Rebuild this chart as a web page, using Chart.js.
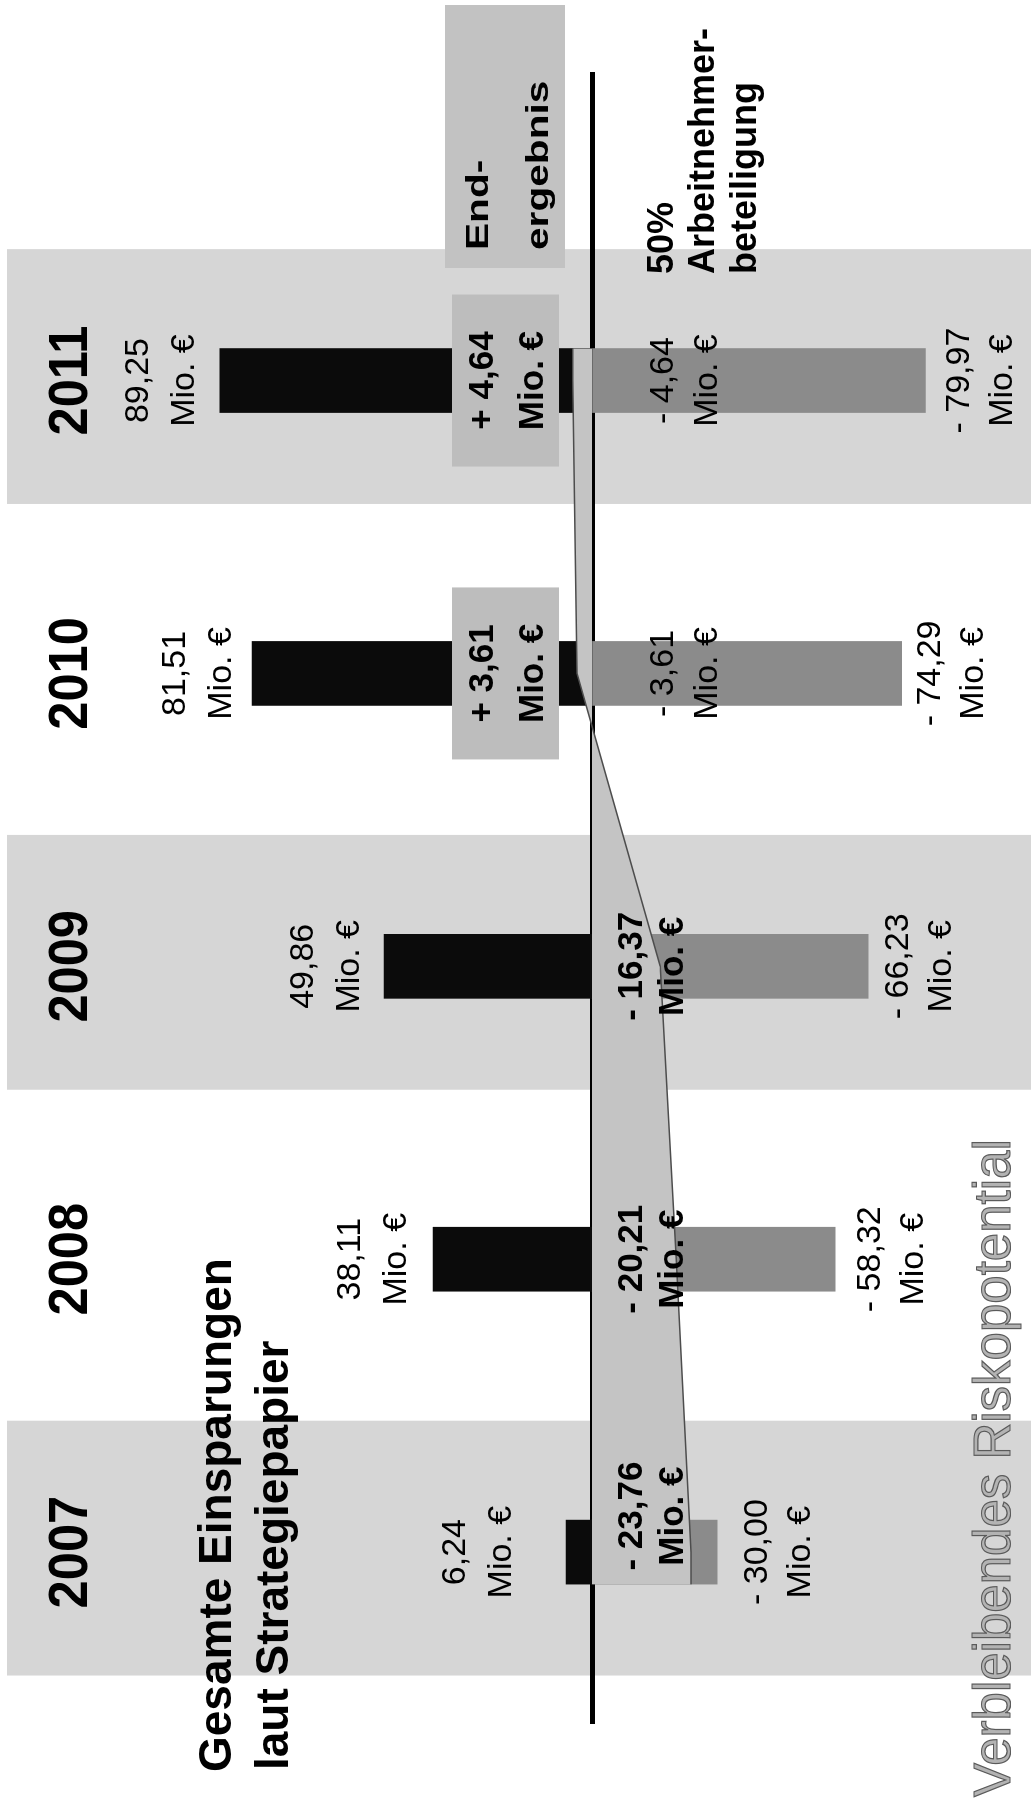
<!DOCTYPE html>
<html lang="de">
<head>
<meta charset="utf-8">
<title>Einsparungen und Risikopotential 2007-2011</title>
<script src="https://cdn.jsdelivr.net/npm/chart.js@4/dist/chart.umd.min.js"></script>
<style>
  html, body { margin: 0; padding: 0; overflow: hidden; background: #fff; }
  #page { position: relative; width: 1031px; height: 1800px; overflow: hidden; }
  /* the slide is landscape, the page shows it turned on its side */
  #chart { position: absolute; left: 0; top: 0; transform-origin: 0 0; transform: translateY(1800px) rotate(-90deg); }
</style>
</head>
<body>
<div id="page"><canvas id="chart" width="1800" height="1031"></canvas></div>
<script>
const years = ['2007', '2008', '2009', '2010', '2011']
const savings = [6.24, 38.11, 49.86, 81.51, 89.25]          // Gesamte Einsparungen
const risk = [-30.00, -58.32, -66.23, -74.29, -79.97]       // Verbleibendes Riskopotential
const result = [-23.76, -20.21, -16.37, 3.61, 4.64]         // Endergebnis
const employeeShare = [null, null, null, -3.61, -4.64]      // 50% Arbeitnehmerbeteiligung
const shadedYears = ['2007', '2009', '2011']

const FONT = '"Liberation Sans", Arial, sans-serif'
const BAR = 64
const halfBar = 0.11   // half a bar, in x units (bars sit one unit apart)

// hand nudges for the value labels, in px
const liftUp = [55, 27, 25, 21, 26]
const dropDown = [50, 45, 40, 38, 44]
const resultShift = [36, 0, 0, 0, 0]

const de = v => Math.abs(v).toFixed(2).replace('.', ',')

function put(ctx, str, x, y, size, bold, align, stretch) {
    stretch = stretch || 1
    ctx.save()
    ctx.font = (bold ? 'bold ' : '') + size + 'px ' + FONT
    ctx.textAlign = 'left'
    ctx.textBaseline = 'alphabetic'
    const w = ctx.measureText(str).width * stretch
    ctx.translate(align === 'center' ? x - w / 2 : x, y)
    ctx.scale(stretch, 1)
    ctx.fillText(str, 0, 0)
    ctx.restore()
}

const panels = {
    id: 'panels',
    beforeDraw(chart) {
        const ctx = chart.ctx
        const x = chart.scales.x
        const step = x.getPixelForValue(1) - x.getPixelForValue(0)
        ctx.save()
        ctx.fillStyle = '#fff'
        ctx.fillRect(0, 0, chart.width, chart.height)
        ctx.fillStyle = '#d6d6d6'
        shadedYears.forEach(yr => {
            const cx = x.getPixelForValue(years.indexOf(yr)) + 4
            ctx.fillRect(cx - step * 0.435, 7, step * 0.87, chart.height - 7)
        })
        ctx.restore()
    }
}

const labels = {
    id: 'labels',
    afterDraw(chart) {
        const ctx = chart.ctx
        const x = chart.scales.x
        const y = chart.scales.y
        const zero = y.getPixelForValue(0)
        ctx.save()
        ctx.fillStyle = '#000'

        years.forEach((yr, i) => {
            const cx = x.getPixelForValue(i)
            put(ctx, yr, cx, 87, 55, true, 'center', 0.92)

            const top = y.getPixelForValue(savings[i]) - liftUp[i]
            put(ctx, de(savings[i]), cx, top - 46, 34, false, 'center')
            put(ctx, 'Mio. €', cx, top, 34, false, 'center')

            const bot = y.getPixelForValue(risk[i]) + dropDown[i]
            put(ctx, '- ' + de(risk[i]), cx, bot, 34, false, 'center')
            put(ctx, 'Mio. €', cx, bot + 43, 34, false, 'center')

            if (result[i] < 0) {
                const rx = cx + resultShift[i]
                put(ctx, '- ' + de(result[i]), rx, zero + 50, 35, true, 'center')
                put(ctx, 'Mio. €', rx, zero + 91, 35, true, 'center')
            } else {
                ctx.fillStyle = '#bdbdbd'
                ctx.fillRect(cx - 86, zero - 140, 172, 107)
                ctx.fillStyle = '#000'
                put(ctx, '+ ' + de(result[i]), cx, zero - 99, 35, true, 'center')
                put(ctx, 'Mio. €', cx, zero - 49, 35, true, 'center')
            }

            if (employeeShare[i] !== null) {
                put(ctx, '- ' + de(employeeShare[i]), cx, zero + 81, 34, false, 'center')
                put(ctx, 'Mio. €', cx, zero + 125, 34, false, 'center')
            }
        })

        // Endergebnis box
        ctx.fillStyle = '#c2c2c2'
        ctx.fillRect(1532, 445, 263, 120)
        ctx.fillStyle = '#000'
        put(ctx, 'End-', 1550, 488, 32, true, 'left', 1.27)
        put(ctx, 'ergebnis', 1550, 548, 32, true, 'left', 1.27)

        put(ctx, '50%', 1526, 673, 36, true, 'left')
        put(ctx, 'Arbeitnehmer-', 1526, 714, 36, true, 'left')
        put(ctx, 'beteiligung', 1526, 756, 36, true, 'left')

        put(ctx, 'Gesamte Einsparungen', 28, 231, 46, true, 'left')
        put(ctx, 'laut Strategiepapier', 30, 288, 46, true, 'left')

        ctx.font = '51px ' + FONT
        ctx.fillStyle = '#b3b3b3'
        ctx.strokeStyle = '#5a5a5a'
        ctx.lineWidth = 1.2
        ctx.fillText('Verbleibendes Riskopotential', 3, 1010)
        ctx.strokeText('Verbleibendes Riskopotential', 3, 1010)
        ctx.restore()
    }
}

const bandData = [{x: -halfBar, y: result[0]}]
    .concat(result.map((v, i) => ({x: i, y: v})))
    .concat([{x: result.length - 1 + halfBar, y: result[result.length - 1]}])

const ctx = document.getElementById('chart').getContext('2d')

const myChart = new Chart(ctx, {
    type: 'bar',
    data: {
        datasets: [{
            type: 'line',
            label: 'Endergebnis',
            data: bandData,
            fill: 'origin',
            backgroundColor: '#c4c4c4',
            borderColor: '#4d4d4d',
            borderWidth: 1.5,
            pointRadius: 0,
            tension: 0,
            order: 0
        }, {
            label: 'Gesamte Einsparungen',
            data: savings.map((v, i) => ({x: i, y: v})),
            backgroundColor: '#0b0b0b',
            barThickness: BAR,
            grouped: false,
            order: 1
        }, {
            label: 'Verbleibendes Riskopotential',
            data: risk.map((v, i) => ({x: i, y: v})),
            backgroundColor: '#8b8b8b',
            barThickness: BAR,
            grouped: false,
            order: 2
        }]
    },
    options: {
        responsive: false,
        animation: false,
        devicePixelRatio: 1,
        layout: {
            padding: { left: 78, right: 73, top: 0, bottom: 0 }
        },
        plugins: {
            legend: { display: false },
            tooltip: { enabled: false }
        },
        scales: {
            x: {
                type: 'linear',
                offset: false,
                min: -0.58,
                max: 5.05,
                position: { y: 0 },
                ticks: { display: false },
                grid: { display: false },
                border: { color: '#000', width: 5 }
            },
            y: {
                min: -105.3,
                max: 142,
                display: false
            }
        }
    },
    plugins: [panels, labels]
});
</script>
</body>
</html>
